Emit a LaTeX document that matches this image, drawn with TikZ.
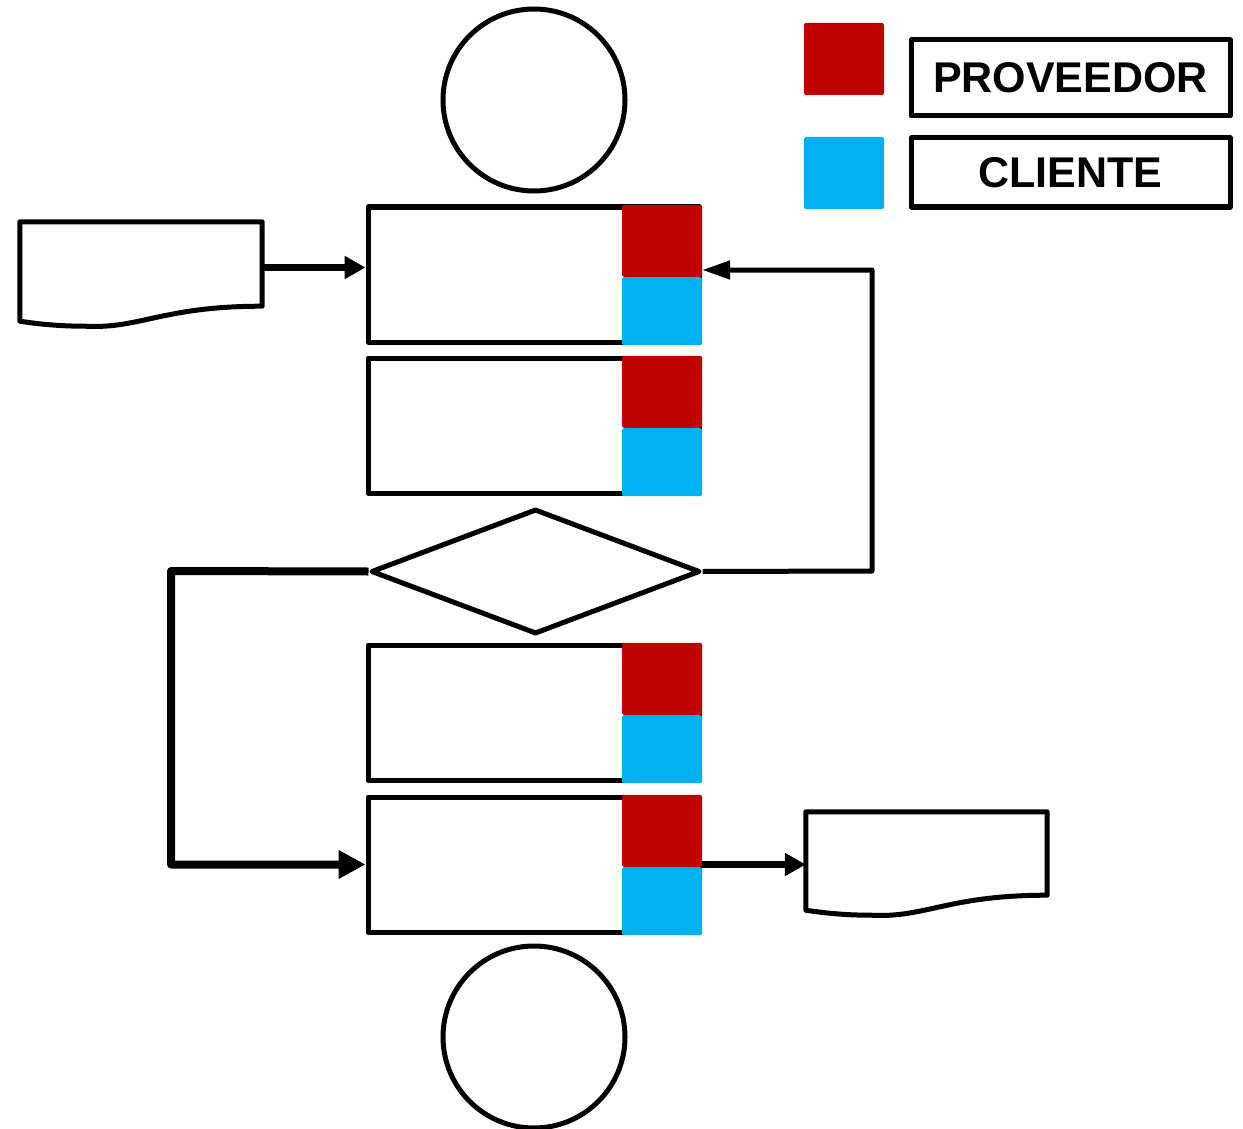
\documentclass[tikz,border=0pt]{standalone}
\usepackage{fontspec}
\setmainfont{Liberation Sans}
\usepackage{tikz}
\usetikzlibrary{shapes.geometric,arrows.meta,calc}

\definecolor{provred}{RGB}{192,0,0}
\definecolor{cliblue}{RGB}{0,176,240}

\tikzset{
  proc/.style={rectangle, draw, line width=5pt, minimum width=331pt, minimum height=135pt, inner sep=0pt},
  tagprov/.style={rectangle, fill=provred, rounded corners=2pt, minimum width=80pt, minimum height=72pt, inner sep=0pt},
  tagcli/.style={rectangle, fill=cliblue, rounded corners=2pt, minimum width=80pt, minimum height=68pt, inner sep=0pt},
  term/.style={circle, draw, line width=5pt, minimum size=182pt, inner sep=0pt},
  decision/.style={diamond, draw, line width=5pt, minimum width=329pt, minimum height=125pt, inner sep=0pt},
  docshape/.style={rectangle, inner sep=0pt},
  legendbox/.style={rectangle, draw, line width=5pt, minimum width=319pt, inner sep=0pt,
    font=\bfseries\fontsize{43}{50}\selectfont},
  flow/.style={line width=6.5pt, -{Triangle[length=21pt,width=22pt]}},
  backflow/.style={line width=5pt, -{Triangle[length=28pt,width=18pt]}},
  loopflow/.style={line width=8pt, -{Triangle[length=27pt,width=27pt]}},
}

\begin{document}
\begin{tikzpicture}[x=1pt, y=-1pt, line join=round]
\useasboundingbox (0,0) rectangle (1243,1129);

\node[term] (start) at (534,100) {};
\node[term] (stop) at (534,1037) {};

\foreach \n/\y in {1/274.5, 2/425.5, 3/712.5, 4/864.5} {
    \node[proc] (box\n) at (533.5,\y) {};
    \node[tagprov, anchor=south] (prov\n) at (662,\y+2.5) {};
    \node[tagcli, anchor=north] (cli\n) at (662,\y+2.5) {};
}

\node[decision] (dec) at (535.5,571.5) {};

% documents
\node[docshape, minimum width=242pt, minimum height=99pt] (docin) at (141,271.5) {};
\node[docshape, minimum width=241pt, minimum height=98pt] (docout) at (926.5,861) {};
\foreach \d in {docin,docout}
    \draw[line width=5pt] (\d.south west) -- (\d.north west) -- (\d.north east)
        -- ($(\d.south east)+(0,-15)$)
        .. controls ($(\d.south east)+(-100,-15)$) and ($(\d.south west)+(120,8)$) .. ($(\d.south west)+(65,5)$)
        .. controls ($(\d.south west)+(40,5)$) and ($(\d.south west)+(20,3)$) .. (\d.south west) -- cycle;

% legend
\node[tagprov] (keyprov) at (844,59) {};
\node[tagcli, minimum height=72pt] (keycli) at (844,173) {};
\node[legendbox, minimum height=76pt] (labprov) at (1070.5,78) {PROVEEDOR};
\node[legendbox, minimum height=69pt] (labcli) at (1070.5,172.5) {CLIENTE};

\coordinate (fb) at (872,571);
\coordinate (lp) at (171,571);

\draw[flow] ($(docin.east)+(0,-4)$) -- ($(docin.east -| box1.west)+(0,-4)$);
\draw[flow] (box4.east -| prov4.east) -- (box4.east -| docout.west);
\draw[backflow] (dec.east) -- (fb) |- ($(prov1.south east)+(0,-7)$);
\draw[loopflow] (dec.west) -- (lp) |- (box4.west);
\end{tikzpicture}
\end{document}
